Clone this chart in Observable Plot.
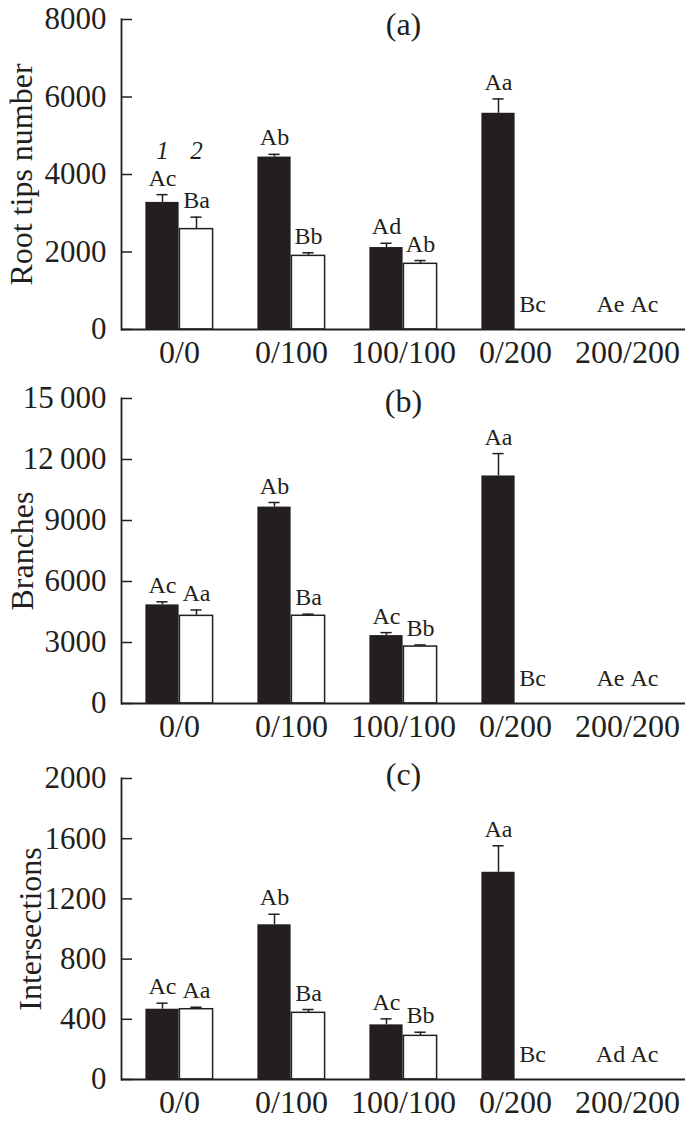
<!DOCTYPE html>
<html><head><meta charset="utf-8">
<script src="https://cdn.jsdelivr.net/npm/d3@7"></script>
<script src="https://cdn.jsdelivr.net/npm/@observablehq/plot@0.6"></script>
<style>
body{margin:0;background:#fff;}
#chart svg{display:block;}
</style></head><body><div id="chart"></div>
<script>
// ---- data ----
const groups = ["0/0","0/100","100/100","0/200","200/200"];
const seriesLabels = ["1","2"];

// (a) Root tips number
const rootMean1 = [3280, 4450, 2115, 5580, 0];
const rootErr1  = [200, 70, 110, 370, 0];
const rootMean2 = [2590, 1900, 1695, 0, 0];
const rootErr2  = [310, 80, 85, 0, 0];
const rootLetters1 = ["Ac","Ab","Ad","Aa","Ae"];
const rootLetters2 = ["Ba","Bb","Ab","Bc","Ac"];
const rootTicks = [0,2000,4000,6000,8000];
const rootTickLabels = ["0","2000","4000","6000","8000"];

// (b) Branches
const brMean1 = [4850, 9660, 3340, 11190, 0];
const brErr1  = [150, 225, 145, 1100, 0];
const brMean2 = [4310, 4315, 2800, 0, 0];
const brErr2  = [290, 80, 80, 0, 0];
const brLetters1 = ["Ac","Ab","Ac","Aa","Ae"];
const brLetters2 = ["Aa","Ba","Bb","Bc","Ac"];
const brTicks = [0,3000,6000,9000,12000,15000];
const brTickLabels = ["0","3000","6000","9000","12\u2009000","15\u2009000"];

// (c) Intersections
const inMean1 = [467, 1028, 363, 1377, 0];
const inErr1  = [40, 70, 40, 176, 0];
const inMean2 = [467, 443, 290, 0, 0];
const inErr2  = [13, 22, 24, 0, 0];
const inLetters1 = ["Ac","Ab","Ac","Aa","Ad"];
const inLetters2 = ["Aa","Ba","Bb","Bc","Ac"];
const inTicks = [0,400,800,1200,1600,2000];
const inTickLabels = ["0","400","800","1200","1600","2000"];

// ---- drawing ----
const W = 685, ML = 121, MR = 0;
const INK = "#231f20";
const half = (W - ML - MR) / groups.length / 2;
const barW = 34, capW = 12;
const FONT = "'Liberation Serif', 'Times New Roman', serif";

function panel({title, yLabel, mean1, err1, mean2, err2, letters1, letters2, ticks, tickLabels,
                height, marginTop, marginBottom, titleDy, yLabelX, showSeries}) {
  const rows1 = groups.map((g, i) => ({group: g, value: mean1[i], err: err1[i], letter: letters1[i]}));
  const rows2 = groups.map((g, i) => ({group: g, value: mean2[i], err: err2[i], letter: letters2[i]}));
  const top = d => d.value + d.err;
  const marks = [
    Plot.barY(rows1, {x: "group", y: "value", fill: INK, insetLeft: half - barW, insetRight: half}),
    Plot.barY(rows2.filter(d => d.value > 0), {x: "group", y: "value", fill: "white", stroke: INK, strokeWidth: 1.5, insetLeft: half, insetRight: half - barW}),
    Plot.ruleX(rows1.filter(d => d.err > 0), {x: "group", y1: "value", y2: top, dx: -barW / 2, stroke: INK, strokeWidth: 1.5}),
    Plot.ruleX(rows2.filter(d => d.err > 0), {x: "group", y1: "value", y2: top, dx: barW / 2, stroke: INK, strokeWidth: 1.5}),
    Plot.tickY(rows1.filter(d => d.err > 0), {x: "group", y: top, stroke: INK, strokeWidth: 1.5,
      insetLeft: half - barW / 2 - capW / 2, insetRight: half + barW / 2 - capW / 2}),
    Plot.tickY(rows2.filter(d => d.err > 0), {x: "group", y: top, stroke: INK, strokeWidth: 1.5,
      insetLeft: half + barW / 2 - capW / 2, insetRight: half - barW / 2 - capW / 2}),
    Plot.text(rows1.filter(d => d.value > 0), {x: "group", y: top, text: "letter", dx: -barW / 2, dy: -9, lineAnchor: "bottom", fontSize: 24, fill: INK}),
    Plot.text(rows2.filter(d => d.value > 0), {x: "group", y: top, text: "letter", dx: barW / 2, dy: -9, lineAnchor: "bottom", fontSize: 24, fill: INK}),
    Plot.text(rows1.filter(d => d.value === 0), {x: "group", y: top, text: "letter", dx: -barW / 2, dy: -18, lineAnchor: "bottom", fontSize: 24, fill: INK}),
    Plot.text(rows2.filter(d => d.value === 0), {x: "group", y: top, text: "letter", dx: barW / 2, dy: -18, lineAnchor: "bottom", fontSize: 24, fill: INK}),
    Plot.ruleY([0], {stroke: INK, strokeWidth: 1.8}),
    Plot.frame({anchor: "left", stroke: INK, strokeWidth: 1.8}),
    Plot.tickY(ticks, {y: d => d, stroke: INK, strokeWidth: 1.5, insetRight: (W - ML - MR) - 11}),
    Plot.axisY(ticks, {tickSize: 0, tickPadding: 15, fontSize: 31, label: null, fill: INK,
      tickFormat: d => tickLabels[ticks.indexOf(d)]}),
    Plot.axisX({tickSize: 0, tickPadding: 11, fontSize: 32, label: null, fill: INK}),
    Plot.text([title], {frameAnchor: "top", dy: titleDy, lineAnchor: "bottom", fontSize: 32, fill: INK}),
    Plot.text([yLabel], {frameAnchor: "left", dx: yLabelX - ML, rotate: -90, textAnchor: "middle", lineAnchor: "bottom", fontSize: 32, fill: INK})
  ];
  if (showSeries) {
    const first = rows1[0];
    marks.push(Plot.text([seriesLabels[0]], {x: () => first.group, y: () => top(first), dx: -barW / 2, dy: -36, lineAnchor: "bottom", fontSize: 25, fontStyle: "italic", fill: INK}));
    marks.push(Plot.text([seriesLabels[1]], {x: () => first.group, y: () => top(first), dx: barW / 2, dy: -36, lineAnchor: "bottom", fontSize: 25, fontStyle: "italic", fill: INK}));
  }
  return Plot.plot({
    width: W, height, marginLeft: ML, marginRight: MR, marginTop, marginBottom,
    style: {fontFamily: FONT, background: "white", color: INK},
    x: {domain: groups, padding: 0},
    y: {domain: [ticks[0], ticks[ticks.length - 1]]},
    marks
  });
}

const chart = document.getElementById("chart");
chart.append(panel({title: "(a)", yLabel: "Root tips number", mean1: rootMean1, err1: rootErr1, mean2: rootMean2, err2: rootErr2,
  letters1: rootLetters1, letters2: rootLetters2, ticks: rootTicks, tickLabels: rootTickLabels,
  height: 372, marginTop: 19, marginBottom: 43, titleDy: 15, yLabelX: 31, showSeries: true}));
chart.append(panel({title: "(b)", yLabel: "Branches", mean1: brMean1, err1: brErr1, mean2: brMean2, err2: brErr2,
  letters1: brLetters1, letters2: brLetters2, ticks: brTicks, tickLabels: brTickLabels,
  height: 376, marginTop: 26, marginBottom: 45, titleDy: 13, yLabelX: 32, showSeries: false}));
chart.append(panel({title: "(c)", yLabel: "Intersections", mean1: inMean1, err1: inErr1, mean2: inMean2, err2: inErr2,
  letters1: inLetters1, letters2: inLetters2, ticks: inTicks, tickLabels: inTickLabels,
  height: 376, marginTop: 30, marginBottom: 45, titleDy: 6, yLabelX: 40, showSeries: false}));
</script></body></html>
